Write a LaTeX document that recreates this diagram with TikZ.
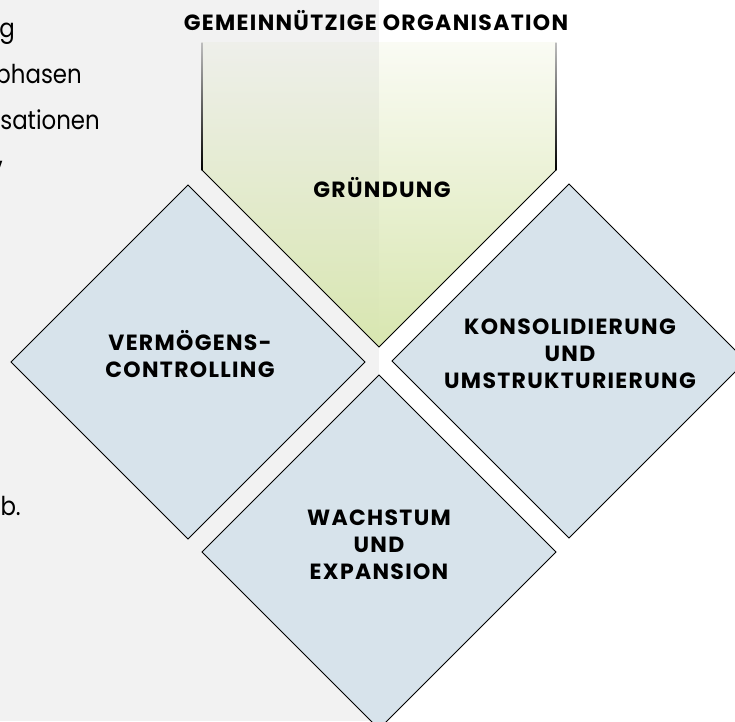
\documentclass[tikz,border=0pt]{standalone}
\usepackage{fontspec}
\usetikzlibrary{calc}
\setmainfont{Poppins}
\newfontfamily\lblfont{Poppins}[LetterSpace=6]
\newfontfamily\parafont{Poppins}[FakeStretch=0.88]
\definecolor{bggray}{RGB}{242,242,242}
\definecolor{diafill}{RGB}{215,227,235}
\definecolor{greenbot}{RGB}{216,230,176}
\definecolor{greentopL}{RGB}{238,239,234}
\definecolor{greentopR}{RGB}{250,251,244}
\definecolor{edgetop}{RGB}{190,190,190}
\begin{document}
\begin{tikzpicture}[x=1pt,y=-1pt,
  lab/.style={font=\lblfont\bfseries\fontsize{22}{27}\selectfont, inner sep=0pt, align=center, text=black},
  para/.style={font=\parafont\fontsize{26}{46}\selectfont, inner sep=0pt, text=black},
  diamondbox/.style={fill=diafill, draw=black, line width=0.8pt, line join=miter},
  outline/.style={draw=black, line width=0.8pt}]
\useasboundingbox (0,0) rectangle (735,721);
% backgrounds
\fill[white] (0,0) rectangle (735,721);
\fill[bggray] (0,0) rectangle (379,721);
% pentagon (Gründung)
\coordinate (pTL) at (202,42);
\coordinate (pL) at (202,170);
\coordinate (pB) at (379,347);
\coordinate (pR) at (556,170);
\coordinate (pTR) at (556,42);
\coordinate (pTM) at (379,42);
\shade[top color=greentopL, bottom color=greenbot] (pTL) -- (pL) -- (pB) -- (pTM) -- cycle;
\shade[top color=greentopR, bottom color=greenbot] (pTM) -- (pB) -- (pR) -- (pTR) -- cycle;
\shade[top color=edgetop, bottom color=black] ($(pTL)+(-0.4,0)$) rectangle ($(pL)+(0.4,0)$);
\shade[top color=edgetop, bottom color=black] ($(pTR)+(-0.4,0)$) rectangle ($(pR)+(0.4,0)$);
\draw[outline] (pL) -- (pB) -- (pR);
% diamonds
\coordinate (dl) at (188,362);
\coordinate (dr) at (569,361);
\coordinate (db) at (379,552);
\path[diamondbox] ($(dl)+(-177,0)$) -- ($(dl)+(0,-177)$) -- ($(dl)+(177,0)$) -- ($(dl)+(0,177)$) -- cycle;
\path[diamondbox] ($(dr)+(-177,0)$) -- ($(dr)+(0,-177)$) -- ($(dr)+(177,0)$) -- ($(dr)+(0,177)$) -- cycle;
\path[diamondbox] ($(db)+(-177,0)$) -- ($(db)+(0,-177)$) -- ($(db)+(177,0)$) -- ($(db)+(0,177)$) -- cycle;
% texts
\node[lab, anchor=base] (title) at (376,30) {GEMEINNÜTZIGE ORGANISATION};
\node[lab, anchor=base] (gruendung) at (382,197) {GRÜNDUNG};
\node[lab] (verm) at (190,354) {VERMÖGENS-\\CONTROLLING};
\node[lab] (kons) at (570,354) {KONSOLIDIERUNG\\UND\\UMSTRUKTURIERUNG};
\node[lab] (wach) at (379,545) {WACHSTUM\\UND\\EXPANSION};
% cut-off paragraph on the left
\node[para, anchor=base east] (l1) at (15,37) {g};
\node[para, anchor=base east] (l2) at (82,83) {phasen};
\node[para, anchor=base east] (l3) at (100,129) {sationen};
\node[para, anchor=base east] (l4) at (3,175) {v};
\node[para, anchor=base east] (l5) at (21,515) {b.};
\end{tikzpicture}
\end{document}
